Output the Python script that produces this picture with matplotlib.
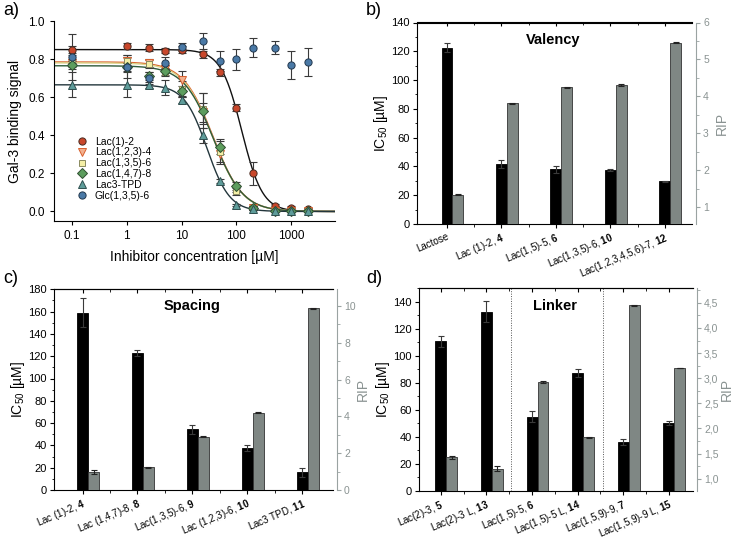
import numpy as np
import matplotlib
matplotlib.use("Agg")
import matplotlib.pyplot as plt
from matplotlib.ticker import MultipleLocator, FixedLocator, NullLocator, FuncFormatter

plt.rcParams['font.family'] = ['Liberation Sans', 'DejaVu Sans']
plt.rcParams['mathtext.fontset'] = 'custom'
plt.rcParams['mathtext.rm'] = 'Liberation Sans'
plt.rcParams['mathtext.bf'] = 'Liberation Sans:bold'
plt.rcParams['mathtext.it'] = 'Liberation Sans:italic'

# ---------------- Panel a data ----------------
conc = [0.1, 1, 2.5, 5, 10, 25, 50, 100, 200, 500, 1000, 2000]
series_names = ["Lac(1)-2", "Lac(1,2,3)-4", "Lac(1,3,5)-6", "Lac(1,4,7)-8", "Lac3-TPD", "Glc(1,3,5)-6"]
lac2 = [0.85, 0.87, 0.86, 0.845, 0.85, 0.825, 0.73, 0.545, 0.20, 0.03, 0.02, 0.012]
lac2_err = [0.02, 0.015, 0.02, 0.015, 0.02, 0.02, 0.02, 0.02, 0.06, 0.01, 0.01, 0.008]
lac4 = [0.78, 0.79, 0.78, 0.75, 0.69, 0.52, 0.30, 0.12, 0.02, 0.005, 0.0, 0.0]
lac4_err = [0.02, 0.03, 0.02, 0.02, 0.05, 0.05, 0.04, 0.02, 0.01, 0.005, 0.005, 0.005]
lac6 = [0.80, 0.79, 0.775, 0.73, 0.645, 0.54, 0.31, 0.105, 0.02, 0.005, 0.0, 0.0]
lac6_err = [0.02, 0.02, 0.02, 0.02, 0.04, 0.08, 0.06, 0.02, 0.01, 0.005, 0.005, 0.005]
lac8 = [0.77, 0.76, 0.71, 0.735, 0.63, 0.53, 0.34, 0.135, 0.02, 0.005, 0.0, 0.005]
lac8_err = [0.02, 0.02, 0.02, 0.02, 0.03, 0.09, 0.04, 0.02, 0.01, 0.005, 0.005, 0.005]
tpd = [0.665, 0.665, 0.665, 0.65, 0.585, 0.40, 0.16, 0.035, 0.015, 0.005, 0.0, 0.0]
tpd_err = [0.065, 0.065, 0.015, 0.04, 0.015, 0.04, 0.01, 0.005, 0.005, 0.005, 0.005, 0.005]
glc = [0.81, 0.76, 0.70, 0.78, 0.865, 0.895, 0.79, 0.80, 0.86, 0.86, 0.77, 0.785]
glc_err = [0.12, 0.06, 0.03, 0.03, 0.02, 0.04, 0.055, 0.055, 0.05, 0.035, 0.075, 0.075]
# fitted dose-response curve parameters (top, IC50, Hill slope); None = no fit
fit_top = [0.85, 0.785, 0.78, 0.765, 0.665, None]
fit_ic50 = [125, 37.5, 37, 38, 29, None]
fit_hill = [2.3, 1.6, 1.6, 1.6, 2.1, None]

# ---------------- Panel b data ----------------
b_labels = ["Lactose", "Lac (1)-2, $\\mathbf{4}$", "Lac(1,5)-5, $\\mathbf{6}$",
            "Lac(1,3,5)-6, $\\mathbf{10}$", "Lac(1,2,3,4,5,6)-7, $\\mathbf{12}$"]
b_ic50 = [122.6, 41.8, 37.9, 37.4, 29.6]
b_ic50_err = [3.0, 3.0, 2.3, 0.6, 0.5]
b_rip = [1.33, 3.81, 4.24, 4.31, 5.45]
b_rip_err = [0.015, 0.02, 0.02, 0.02, 0.01]

# ---------------- Panel c data ----------------
c_labels = ["Lac (1)-2, $\\mathbf{4}$", "Lac (1,4,7)-8, $\\mathbf{8}$", "Lac(1,3,5)-6, $\\mathbf{9}$",
            "Lac (1,2,3)-6, $\\mathbf{10}$", "Lac3 TPD, $\\mathbf{11}$"]
c_ic50 = [159, 123, 54.5, 37.5, 16]
c_ic50_err = [13, 3, 4, 2.5, 4]
c_rip = [0.99, 1.23, 2.9, 4.2, 9.87]
c_rip_err = [0.1, 0.03, 0.04, 0.03, 0.03]

# ---------------- Panel d data ----------------
d_labels = ["Lac(2)-3, $\\mathbf{5}$", "Lac(2)-3 L, $\\mathbf{13}$", "Lac(1,5)-5, $\\mathbf{6}$",
            "Lac(1,5)-5 L, $\\mathbf{14}$", "Lac(1,5,9)-9, $\\mathbf{7}$", "Lac(1,5,9)-9 L, $\\mathbf{15}$"]
d_ic50 = [110.7, 132.8, 54.8, 87.3, 36.0, 50.4]
d_ic50_err = [4, 8, 4.2, 3, 2.5, 1.5]
d_rip = [1.43, 1.20, 2.92, 1.82, 4.45, 3.20]
d_rip_err = [0.03, 0.05, 0.025, 0.015, 0.01, 0.005]

W, H = 733, 541
fig = plt.figure(figsize=(W / 100, H / 100), dpi=100)

def rect(l, r, t, b):
    return [l / W, 1 - b / H, (r - l) / W, (b - t) / H]

TICK_FS = 8
LABEL_FS = 9.5

# ---------------- Panel a ----------------
ax = fig.add_axes(rect(54, 335, 21, 221))
ys = [lac2, lac4, lac6, lac8, tpd, glc]
errs = [lac2_err, lac4_err, lac6_err, lac8_err, tpd_err, glc_err]
markers = ['o', 'v', 's', 'D', '^', 'o']
faces = ['#c9472b', '#f3b08e', '#f4efa6', '#5d9d5e', '#5e9c9a', '#4a79a6']
edges = ['#4a2a20', '#d8602e', '#8a8a60', '#2f4f30', '#2f4f4f', '#22384e']
msizes = [5.2, 5.2, 4.8, 4.6, 5.2, 5.2]
curve_cols = ['#111111', '#d9622c', '#ddd58a', '#2f5a3a', '#23363c', None]
xs = np.logspace(np.log10(0.047), np.log10(6300), 400)
for i in range(6):
    if fit_top[i] is not None:
        yc = fit_top[i] / (1 + (xs / fit_ic50[i]) ** fit_hill[i])
        ax.plot(xs, yc, color=curve_cols[i], lw=1.0, zorder=2)
for i in range(6):
    ax.errorbar(conc, ys[i], yerr=errs[i], fmt='none', ecolor='#3a3a3a', elinewidth=0.8,
                capsize=3, capthick=0.8, zorder=3)
handles = []
for i in range(6):
    h, = ax.plot(conc, ys[i], linestyle='none', marker=markers[i], ms=msizes[i],
                 mfc=faces[i], mec=edges[i], mew=0.7, zorder=4 + i * 0.1, label=series_names[i])
    handles.append(h)
ax.set_xscale('log')
ax.set_xlim(0.047, 6300)
ax.set_ylim(-0.05, 1.0)
ax.xaxis.set_major_locator(FixedLocator([0.1, 1, 10, 100, 1000]))
ax.xaxis.set_major_formatter(FuncFormatter(lambda v, p: ('%g' % v)))
ax.xaxis.set_minor_locator(NullLocator())
ax.yaxis.set_major_locator(MultipleLocator(0.2))
ax.yaxis.set_major_formatter(FuncFormatter(lambda v, p: '%.1f' % v))
for s in ['top', 'right']:
    ax.spines[s].set_visible(False)
ax.tick_params(labelsize=8.5, length=3, width=0.8, direction='out')
ax.set_ylabel("Gal-3 binding signal", fontsize=LABEL_FS + 0.5, labelpad=5)
ax.set_xlabel("Inhibitor concentration [µM]", fontsize=LABEL_FS + 0.5, labelpad=6)
leg = ax.legend(handles=handles, loc='lower left', bbox_to_anchor=(0.06, 0.075), frameon=False,
                fontsize=7.5, labelspacing=0.08, handletextpad=0.6, handlelength=1.2, borderpad=0)

# ---------------- bar panel helper ----------------
def bar_panel(r, labels, ic, ic_err, rip, rip_err, ylim_l, ylim_r, lmaj, lmin, rmaj, rmin,
              title, xlim, width, rfmt=None, dividers=None, rip_pad=2):
    ax = fig.add_axes(r)
    x = np.arange(len(labels))
    ax.bar(x, ic, width=width, color='black', edgecolor='black', linewidth=0.6, zorder=2)
    ax.errorbar(x, ic, yerr=ic_err, fmt='none', ecolor='#3a3a3a', elinewidth=0.8,
                capsize=2.5, capthick=0.8, zorder=3)
    ax.set_ylim(*ylim_l)
    ax.set_xlim(*xlim)
    ax.yaxis.set_major_locator(MultipleLocator(lmaj))
    ax.yaxis.set_minor_locator(MultipleLocator(lmin))
    ax.set_xticks(x)
    ax.set_xticklabels(labels, rotation=23, ha='right', rotation_mode='anchor', fontsize=7.0)
    ax.xaxis.set_minor_locator(FixedLocator(x[:-1] + 0.5))
    ax.tick_params(axis='y', which='major', labelsize=TICK_FS, length=3, width=0.8, pad=2)
    ax.tick_params(axis='y', which='minor', length=1.8, width=0.6)
    ax.tick_params(axis='x', which='major', length=3, width=0.8, pad=2)
    ax.tick_params(axis='x', which='minor', length=2, width=0.6)
    ax.spines['right'].set_visible(False)
    top = ax.secondary_xaxis('top')
    top.set_xticks(x)
    top.xaxis.set_minor_locator(FixedLocator(x[:-1] + 0.5))
    top.tick_params(which='major', direction='in', length=3, width=0.8, labeltop=False)
    top.tick_params(which='minor', direction='in', length=2, width=0.6)
    top.spines['top'].set_linewidth(0.8)
    ax.set_ylabel("IC$_{50}$ [µM]", fontsize=LABEL_FS + 0.5, labelpad=1)
    ax.text(0.495, 0.915, title, transform=ax.transAxes, ha='center', va='center',
            fontsize=10.5, fontweight='bold')
    if dividers is not None:
        for d in dividers:
            ax.axvline(d, color='#555555', lw=0.7, ls=(0, (1, 1.5)), zorder=1)
    ax2 = ax.twinx()
    gcol = '#9aa3a2'
    ax2.bar(x + width, rip, width=width, color='#7f8784', edgecolor='#333333', linewidth=0.6, zorder=2)
    ax2.errorbar(x + width, rip, yerr=rip_err, fmt='none', ecolor='#222222', elinewidth=0.8,
                 capsize=2.5, capthick=0.8, zorder=3)
    ax2.set_ylim(*ylim_r)
    ax2.yaxis.set_major_locator(MultipleLocator(rmaj))
    ax2.yaxis.set_minor_locator(MultipleLocator(rmin))
    if rfmt is not None:
        ax2.yaxis.set_major_formatter(FuncFormatter(rfmt))
    for s in ['top', 'bottom', 'left']:
        ax2.spines[s].set_visible(False)
    ax2.spines['right'].set_position(('outward', 3))
    ax2.spines['right'].set_color(gcol)
    ax2.tick_params(axis='y', which='major', colors=gcol, labelcolor='#8a9392', labelsize=TICK_FS - 0.5,
                    length=3, width=0.8, pad=2)
    ax2.tick_params(axis='y', which='minor', colors=gcol, length=1.8, width=0.6)
    ax2.set_ylabel("RIP", fontsize=LABEL_FS + 0.5, color='#8a9392', labelpad=rip_pad)
    return ax, ax2

comma = lambda v, p: ('%.1f' % v).replace('.', ',')

bar_panel(rect(417, 692, 22.5, 224), b_labels, b_ic50, b_ic50_err, b_rip, b_rip_err,
          (0, 140), (0.54, 6.0), 20, 10, 1, 0.5, "Valency", (-0.55, 4.5), 0.2, rip_pad=4)
bar_panel(rect(54, 333, 289.3, 490), c_labels, c_ic50, c_ic50_err, c_rip, c_rip_err,
          (0, 180), (0, 10.9), 20, 10, 2, 1, "Spacing", (-0.52, 4.56), 0.2, rip_pad=0)
xd = np.arange(len(d_labels))
bar_panel(rect(419, 693, 288.3, 490.7), d_labels, d_ic50, d_ic50_err, d_rip, d_rip_err,
          (0, 150), (0.76, 4.79), 20, 10, 0.5, 0.25, "Linker", (-0.48, 5.53), 0.24,
          rfmt=comma, dividers=[xd[1] + 0.54, xd[3] + 0.56], rip_pad=1)

# panel letters
for lab, (px, py) in zip(["a)", "b)", "c)", "d)"], [(3, 2), (366, 2), (3, 270), (366, 270)]):
    fig.text(px / W, 1 - py / H, lab, fontsize=13, ha='left', va='top')

fig.savefig("out.png", dpi=100)
